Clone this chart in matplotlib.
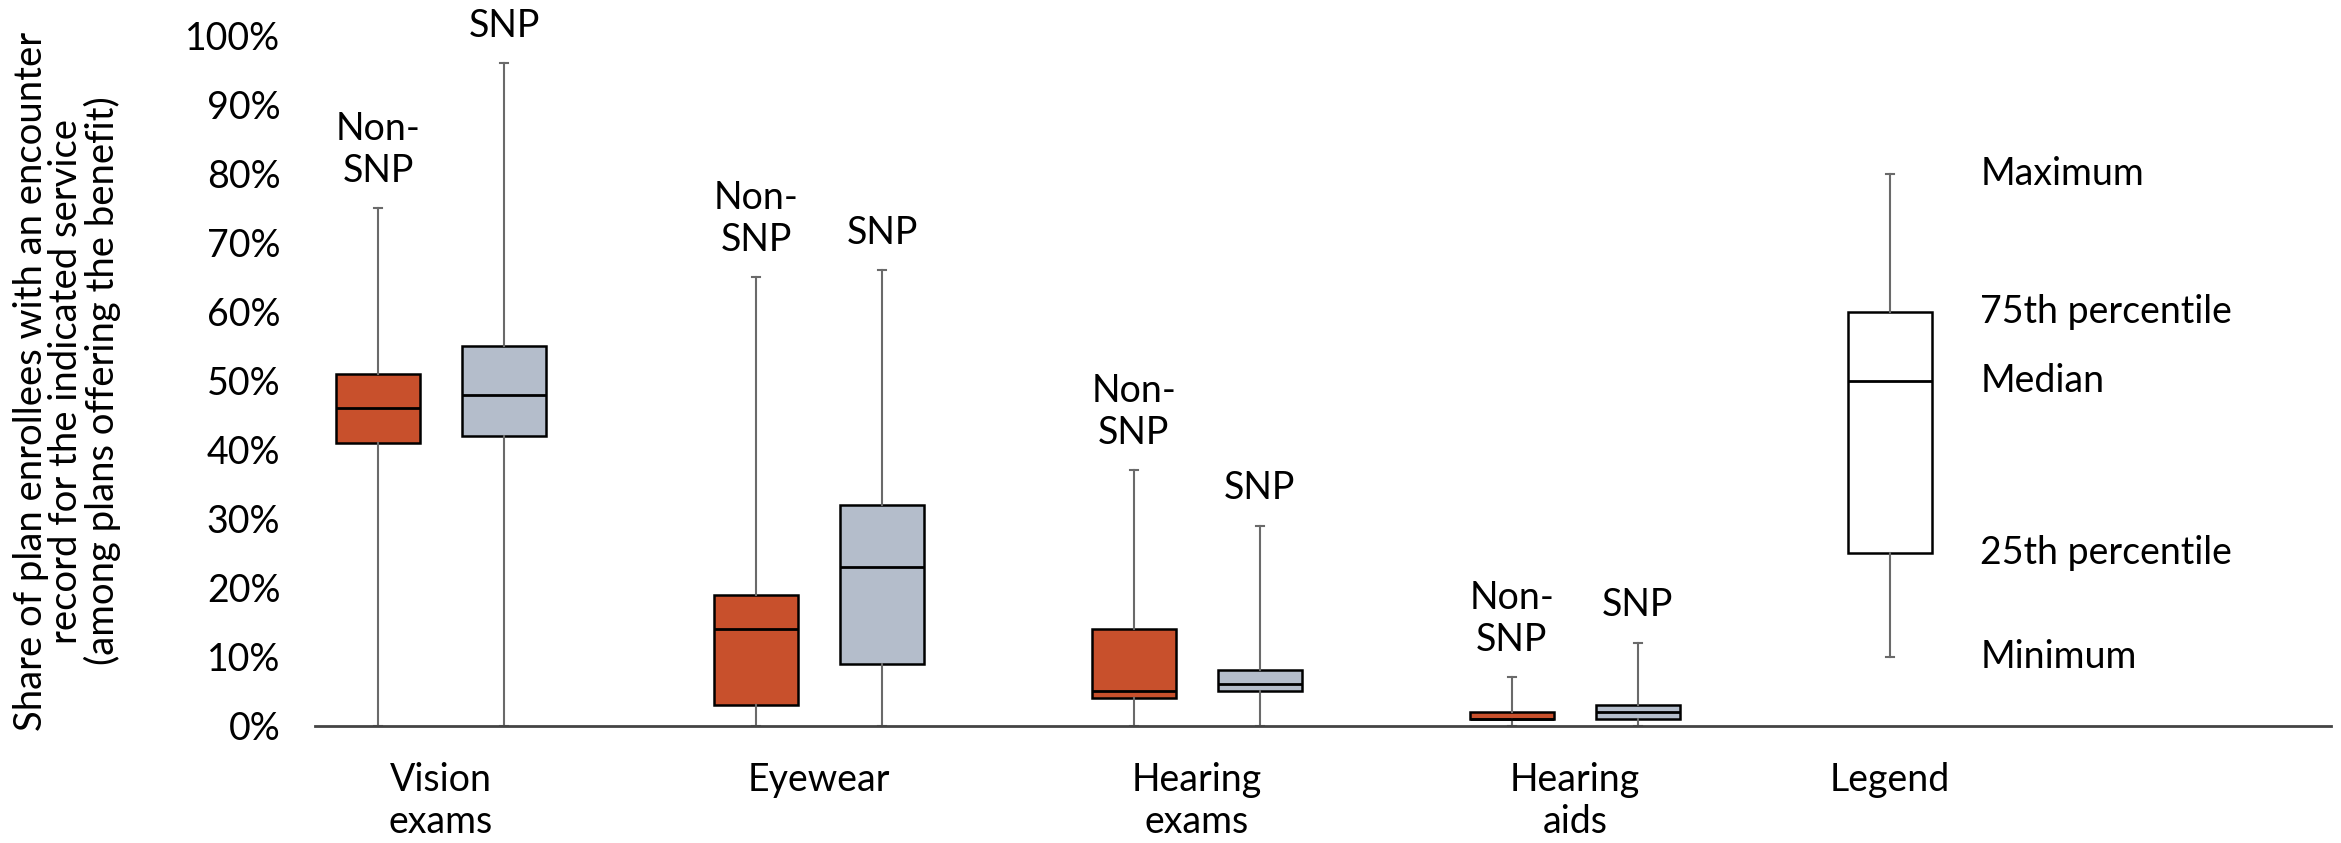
import matplotlib
matplotlib.use("Agg")
import matplotlib.pyplot as plt
from matplotlib.ticker import PercentFormatter

plt.rcParams['font.family'] = ['Lato', 'DejaVu Sans']

categories = ['Vision\nexams', 'Eyewear', 'Hearing\nexams', 'Hearing\naids']

# Non-SNP plans (%)
nonsnp_min = [0, 0, 0, 0]
nonsnp_q1 = [41, 3, 4, 1]
nonsnp_med = [46, 14, 5, 1]
nonsnp_q3 = [51, 19, 14, 2]
nonsnp_max = [75, 65, 37, 7]

# SNP plans (%)
snp_min = [0, 0, 0, 0]
snp_q1 = [42, 9, 5, 1]
snp_med = [48, 23, 6, 2]
snp_q3 = [55, 32, 8, 3]
snp_max = [96, 66, 29, 12]

# legend example box
legend_vals = [10, 25, 50, 60, 80]
legend_names = ['Minimum', '25th percentile', 'Median', '75th percentile', 'Maximum']

orange = '#C8502C'
grey = '#B4BDCB'
n_slots = 16

fig = plt.figure(figsize=(23.41, 8.43), dpi=100)
ax = fig.add_axes([0.1346, 0.1392, 0.861, 0.8183])


def stats(lo, q1, med, q3, hi):
    return dict(whislo=lo / 100, q1=q1 / 100, med=med / 100, q3=q3 / 100, whishi=hi / 100)


def draw(st, pos, color):
    ax.bxp(st, positions=pos, widths=0.667, capwidths=0.06, showfliers=False,
           patch_artist=True,
           boxprops=dict(facecolor=color, edgecolor='black', linewidth=1.8),
           medianprops=dict(color='black', linewidth=2.0),
           whiskerprops=dict(color='#6a6a6a', linewidth=1.5),
           capprops=dict(color='#6a6a6a', linewidth=1.5))


pos_non = [3 * i for i in range(len(categories))]
pos_snp = [3 * i + 1 for i in range(len(categories))]

draw([stats(*v) for v in zip(nonsnp_min, nonsnp_q1, nonsnp_med, nonsnp_q3, nonsnp_max)], pos_non, orange)
draw([stats(*v) for v in zip(snp_min, snp_q1, snp_med, snp_q3, snp_max)], pos_snp, grey)
legend_pos = 3 * len(categories)
draw([stats(*legend_vals)], [legend_pos], 'white')

fs = 27
for p, m in zip(pos_non, nonsnp_max):
    ax.annotate('Non-\nSNP', (p, m / 100), xytext=(0, 19), textcoords='offset points',
                ha='center', va='baseline', fontsize=fs, linespacing=1.2, annotation_clip=False)
for p, m in zip(pos_snp, snp_max):
    ax.annotate('SNP', (p, m / 100), xytext=(0, 19), textcoords='offset points',
                ha='center', va='baseline', fontsize=fs, annotation_clip=False)

for v, name in zip(legend_vals, legend_names):
    ax.text(legend_pos + 0.72, v / 100, name, ha='left', va='center', fontsize=fs)

# category labels under the axis
for i, c in enumerate(categories):
    ax.annotate(c, (3 * i + 0.5, 0), xycoords=('data', 'axes fraction'), xytext=(0, -26),
                textcoords='offset points', ha='center', va='top', fontsize=fs, linespacing=1.2)
ax.annotate('Legend', (legend_pos, 0), xycoords=('data', 'axes fraction'), xytext=(0, -26),
            textcoords='offset points', ha='center', va='top', fontsize=fs)

ax.set_xlim(-0.5, n_slots - 0.5)
ax.set_ylim(0, 1)
ax.set_yticks([i / 10 for i in range(11)])
ax.yaxis.set_major_formatter(PercentFormatter(1.0, decimals=0))
ax.tick_params(axis='y', length=0, pad=25, labelsize=fs)
ax.set_xticks(range(n_slots))
ax.set_xticklabels([])
ax.tick_params(axis='x', length=0)
for s in ['left', 'right', 'top']:
    ax.spines[s].set_visible(False)
ax.spines['bottom'].set_color('#444444')
ax.spines['bottom'].set_linewidth(2)

fig.text(0.0286, 0.548,
         'Share of plan enrollees with an encounter\nrecord for the indicated service\n(among plans offering the benefit)',
         rotation=90, ha='center', va='center', fontsize=27.5, linespacing=0.97)

fig.savefig('out.png', dpi=100)
